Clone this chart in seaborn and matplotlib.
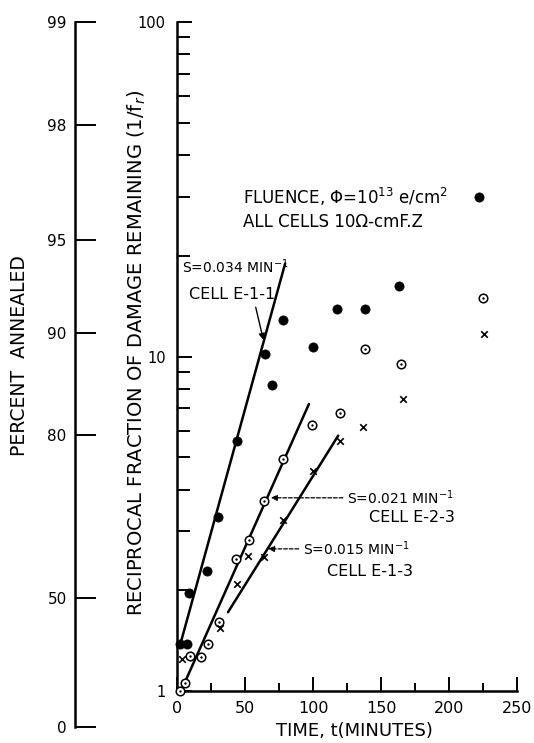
import numpy as np
import pandas as pd
import matplotlib
matplotlib.use("Agg")
import matplotlib.pyplot as plt
import seaborn as sns

# Isochronal anneal of three cells: reciprocal fraction of damage remaining vs time
time_e11 = [2, 7, 9, 22, 30, 44, 65, 70, 78, 100, 118, 138, 163, 222]
recip_e11 = [1.38, 1.38, 1.96, 2.29, 3.31, 5.59, 10.2, 8.2, 12.9, 10.7, 13.9, 13.9, 16.2, 30.0]

time_e23 = [2.5, 6, 9.6, 17.5, 22.5, 31, 43.5, 53, 64, 78, 99.5, 119.5, 138, 165, 225]
recip_e23 = [1.0, 1.06, 1.27, 1.26, 1.38, 1.61, 2.48, 2.83, 3.70, 4.94, 6.24, 6.78, 10.5, 9.5, 15.0]

time_e13 = [3.5, 31.5, 44, 52.5, 64, 78, 100, 119.5, 137, 166, 225.5]
recip_e13 = [1.25, 1.54, 2.09, 2.53, 2.52, 3.24, 4.55, 5.58, 6.16, 7.47, 11.7]

# Fitted exponential recovery 1/f_r = A*exp(S*t) for each cell
fit_cells = ["E-1-1", "E-2-3", "E-1-3"]
fit_rate = [0.034, 0.021, 0.015]          # S, min^-1
fit_amplitude = [1.27, 0.94, 0.98]        # A
fit_t_start = [2.3, 3.0, 37.5]
fit_t_end = [79.5, 97.0, 118.5]

# Percent-annealed companion scale
pct_labels = ["0", "50", "80", "90", "95", "98", "99"]

sns.set_style("ticks")
plt.rcParams["font.family"] = ["DejaVu Sans"]
plt.rcParams["mathtext.fontset"] = "dejavusans"
for key in ("text.color", "axes.labelcolor", "xtick.color", "ytick.color",
            "axes.edgecolor"):
    plt.rcParams[key] = "black"

W, H = 534, 743
fig = plt.figure(figsize=(W / 100, H / 100), dpi=100)


def fx(px):
    return px / W


def fy(py):
    return 1 - py / H


ax = fig.add_axes([fx(177), fy(691), fx(517) - fx(177), fy(22) - fy(691)])

# Fitted lines
for cell, s, a, t0, t1 in zip(fit_cells, fit_rate, fit_amplitude, fit_t_start, fit_t_end):
    t = np.linspace(t0, t1, 50)
    sns.lineplot(x=t, y=a * np.exp(s * t), ax=ax, color="black", lw=1.8,
                 estimator=None, sort=False)

# Cell E-1-1: filled circles
sns.scatterplot(x=time_e11, y=recip_e11, ax=ax, marker="o", s=44,
                color="black", edgecolor="black", linewidth=0.5, clip_on=False, zorder=5)
# Cell E-2-3: open circles with centre dot
sns.scatterplot(x=time_e23, y=recip_e23, ax=ax, marker="o", s=38,
                facecolor="white", edgecolor="black", linewidth=1.1, clip_on=False, zorder=5)
sns.scatterplot(x=time_e23, y=recip_e23, ax=ax, marker="o", s=3,
                color="black", edgecolor="black", linewidth=0, clip_on=False, zorder=6)
# Cell E-1-3: crosses
sns.scatterplot(x=time_e13, y=recip_e13, ax=ax, marker="x", s=22,
                color="black", linewidth=1.2, clip_on=False, zorder=5)

ax.set_yscale("log")
ax.set_xlim(0, 250)
ax.set_ylim(1, 100)
ax.set_xticks([0, 50, 100, 150, 200, 250])
ax.set_xticklabels(["0", "50", "100", "150", "200", "250"])
ax.set_xticks([25, 75, 125, 175, 225], minor=True)
ax.set_yticks([1, 10, 100])
ax.set_yticklabels(["1", "10", "100"])
ax.set_yticks([m * d for d in (1, 10) for m in range(2, 10)], minor=True)
ax.yaxis.set_minor_formatter(matplotlib.ticker.NullFormatter())

for side in ("top", "right"):
    ax.spines[side].set_visible(False)
for side in ("left", "bottom"):
    ax.spines[side].set_linewidth(1.8)
    ax.spines[side].set_color("black")

ax.tick_params(axis="both", which="both", direction="in", color="black",
               labelcolor="black", left=True, bottom=True, labelsize=11.5, width=1.4)
ax.tick_params(axis="y", which="both", pad=8, labelsize=10.5)
ax.tick_params(axis="x", which="both", pad=7)
ax.tick_params(axis="y", which="major", length=11)
ax.tick_params(axis="y", which="minor", length=9)
ax.tick_params(axis="x", which="major", length=10)
ax.tick_params(axis="x", which="minor", length=6)

ax.set_xlabel("TIME, t(MINUTES)", fontsize=13, color="black")
ax.xaxis.set_label_coords(0.523, -0.046)
ax.set_ylabel("RECIPROCAL FRACTION OF DAMAGE REMAINING (1/f$_r$)", fontsize=14,
              color="black")
ax.yaxis.set_label_coords(-0.084, 0.505)

# Annotations
ax.text(48.5, 30.0, r"FLUENCE, $\Phi$=10$^{13}$ e/cm$^2$", va="center", ha="left",
        fontsize=12, color="black")
ax.text(48.5, 25.2, "ALL CELLS 10\u03a9-cmF.Z", va="center", ha="left", fontsize=12,
        color="black")

s_font = 10
c_font = 11.5
ax.text(3.7, 18.5, "S=0.034 MIN$^{-1}$", va="center", ha="left", fontsize=s_font)
ax.text(72.5, 15.3, "CELL E-1-1", va="center", ha="right", fontsize=c_font)
ax.annotate("", xy=(64, 11.0), xytext=(57.4, 14.3),
            arrowprops=dict(arrowstyle="-|>", color="black", lw=1.0, mutation_scale=9))

ax.text(125, 3.78, "S=0.021 MIN$^{-1}$", va="center", ha="left", fontsize=s_font)
ax.text(141, 3.29, "CELL E-2-3", va="center", ha="left", fontsize=c_font)
ax.annotate("", xy=(67, 3.78), xytext=(124, 3.78),
            arrowprops=dict(arrowstyle="-|>", color="black", lw=0.9, ls=(0, (3, 1.5)),
                            mutation_scale=9))

ax.text(92.6, 2.66, "S=0.015 MIN$^{-1}$", va="center", ha="left", fontsize=s_font)
ax.text(110.5, 2.28, "CELL E-1-3", va="center", ha="left", fontsize=c_font)
ax.annotate("", xy=(65, 2.66), xytext=(91.5, 2.66),
            arrowprops=dict(arrowstyle="-|>", color="black", lw=0.9, ls=(0, (3, 1.5)),
                            mutation_scale=9))

# Percent-annealed scale on the far left
pct_pos = [0.0, 0.183, 0.414, 0.559, 0.691, 0.854, 1.0]
ax2 = fig.add_axes([fx(75), fy(727), 0.001, fy(22) - fy(727)])
ax2.set_xlim(0, 1)
ax2.set_ylim(0, 1)
ax2.set_xticks([])
ax2.set_yticks(pct_pos)
ax2.set_yticklabels(pct_labels)
for side in ("top", "right", "bottom"):
    ax2.spines[side].set_visible(False)
ax2.spines["left"].set_linewidth(1.8)
ax2.spines["left"].set_color("black")
ax2.patch.set_alpha(0)
ax2.tick_params(axis="y", direction="in", left=True, length=15, width=1.4,
                labelsize=11, color="black", labelcolor="black", pad=6)
fig.text(fx(20), fy(356), "PERCENT  ANNEALED", rotation=90, ha="center", va="center",
         fontsize=13.5, color="black")

fig.savefig("out.png", dpi=100, facecolor="white")
